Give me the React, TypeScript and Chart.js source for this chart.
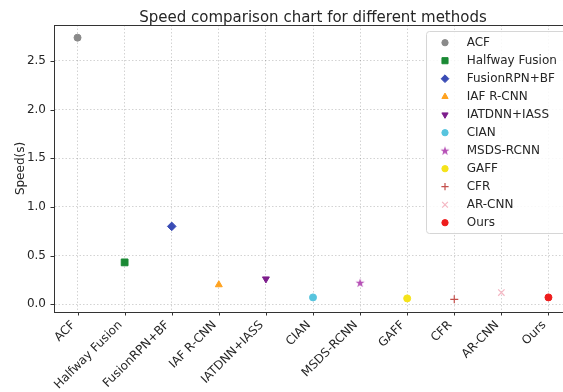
import React, { useEffect, useRef } from 'react';
import { Chart, registerables } from 'chart.js';
import { drawPoint } from 'chart.js/helpers';

Chart.register(...registerables);

const methods = ['ACF', 'Halfway Fusion', 'FusionRPN+BF', 'IAF R-CNN', 'IATDNN+IASS', 'CIAN', 'MSDS-RCNN', 'GAFF', 'CFR', 'AR-CNN', 'Ours'];
const speeds = [2.74, 0.43, 0.8, 0.2, 0.26, 0.07, 0.22, 0.06, 0.05, 0.12, 0.07];
const colors = ['#8a8a8a', '#1b8a35', '#3a4cb5', '#ffa21f', '#7d1e8c', '#57c4de', '#b650b6', '#f5e31a', '#c4504c', '#f4b7c3', '#ee1d1d'];
const markers = ['circle', 'square', 'diamond', 'triangle', 'triangleDown', 'circle', 'star', 'circle', 'plus', 'x', 'circle'];
const yTicks = [0, 0.5, 1.0, 1.5, 2.0, 2.5];
const yMin = -0.08;
const yMax = 2.87;
const titleText = 'Speed comparison chart for different methods';
const yTitle = 'Speed(s)';

const FONT = '"DejaVu Sans", sans-serif';
const TEXT = '#262626';

function makeStar(color: string) {
  const c = document.createElement('canvas');
  c.width = 12;
  c.height = 12;
  const g = c.getContext('2d')!;
  const R = 4.8;
  const r = R * 0.382;
  g.beginPath();
  for (let k = 0; k < 10; k++) {
    const ang = -Math.PI / 2 + (k * Math.PI) / 5;
    const rr = k % 2 === 0 ? R : r;
    const px = 6 + rr * Math.cos(ang);
    const py = 6.3 + rr * Math.sin(ang);
    if (k === 0) g.moveTo(px, py);
    else g.lineTo(px, py);
  }
  g.closePath();
  g.fillStyle = color;
  g.fill();
  return c;
}

function markerOpts(kind: string, color: string) {
  switch (kind) {
    case 'square':
      return { pointStyle: 'rect', radius: 4.8, rotation: 0, borderWidth: 1 };
    case 'diamond':
      return { pointStyle: 'rectRot', radius: 4.3, rotation: 0, borderWidth: 1 };
    case 'triangle':
      return { pointStyle: 'triangle', radius: 4, rotation: 0, borderWidth: 1 };
    case 'triangleDown':
      return { pointStyle: 'triangle', radius: 4, rotation: 180, borderWidth: 1 };
    case 'star':
      return { pointStyle: makeStar(color), radius: 5, rotation: 0, borderWidth: 0 };
    case 'plus':
      return { pointStyle: 'cross', radius: 4, rotation: 0, borderWidth: 1.2 };
    case 'x':
      return { pointStyle: 'crossRot', radius: 4.5, rotation: 0, borderWidth: 1.2 };
    default:
      return { pointStyle: 'circle', radius: 3.5, rotation: 0, borderWidth: 1 };
  }
}

export default function App() {
  const ref = useRef<HTMLCanvasElement>(null);

  useEffect(() => {
    const canvas = ref.current!;
    const mk = markers.map((m, i) => markerOpts(m, colors[i]));

    const decor = {
      id: 'decor',
      afterDraw(chart: any) {
        const { ctx, chartArea: a, scales } = chart;
        const xs = scales.x;
        const ys = scales.y;
        ctx.save();
        ctx.strokeStyle = '#333';
        ctx.lineWidth = 1;
        const line = (x1: number, y1: number, x2: number, y2: number) => {
          ctx.beginPath();
          ctx.moveTo(x1, y1);
          ctx.lineTo(x2, y2);
          ctx.stroke();
        };
        // top spine
        line(a.left, a.top + 0.5, a.right, a.top + 0.5);
        // tick marks
        yTicks.forEach((v) => {
          const py = Math.round(ys.getPixelForValue(v)) + 0.5;
          line(a.left - 3.5, py, a.left, py);
        });
        methods.forEach((_, i) => {
          const px = Math.round(xs.getPixelForValue(i)) + 0.5;
          line(px, a.bottom, px, a.bottom + 3.5);
        });
        // x labels, rotated 45, right aligned
        ctx.font = `12px ${FONT}`;
        ctx.fillStyle = TEXT;
        ctx.textAlign = 'right';
        ctx.textBaseline = 'alphabetic';
        const ty = a.bottom + 7;
        methods.forEach((m, i) => {
          const tx = xs.getPixelForValue(i);
          ctx.save();
          ctx.translate(tx - 2, ty + 6.4);
          ctx.rotate(-Math.PI / 4);
          ctx.fillText(m, 0, 0);
          ctx.restore();
        });
        // title
        ctx.font = `15px ${FONT}`;
        ctx.textAlign = 'center';
        ctx.fillText(titleText, (a.left + a.right) / 2, 21.5);
        // y title
        ctx.font = `12px ${FONT}`;
        ctx.save();
        ctx.translate(23.5, (a.top + a.bottom) / 2);
        ctx.rotate(-Math.PI / 2);
        ctx.textAlign = 'center';
        ctx.fillText(yTitle, 0, 0);
        ctx.restore();
        // legend
        const lx = 426.5;
        const ltop = 31.5;
        const lbot = 233.5;
        const lright = a.right - 5;
        const rad = 3;
        ctx.beginPath();
        ctx.moveTo(lx + rad, ltop);
        ctx.lineTo(lright - rad, ltop);
        ctx.arcTo(lright, ltop, lright, ltop + rad, rad);
        ctx.lineTo(lright, lbot - rad);
        ctx.arcTo(lright, lbot, lright - rad, lbot, rad);
        ctx.lineTo(lx + rad, lbot);
        ctx.arcTo(lx, lbot, lx, lbot - rad, rad);
        ctx.lineTo(lx, ltop + rad);
        ctx.arcTo(lx, ltop, lx + rad, ltop, rad);
        ctx.closePath();
        ctx.fillStyle = 'rgba(255,255,255,0.85)';
        ctx.fill();
        ctx.strokeStyle = '#d6d6d6';
        ctx.lineWidth = 1;
        ctx.stroke();
        methods.forEach((m, i) => {
          const y = 42.7 + i * 18;
          const o = mk[i];
          ctx.fillStyle = colors[i];
          ctx.strokeStyle = colors[i];
          ctx.lineWidth = o.borderWidth;
          drawPoint(ctx, { pointStyle: o.pointStyle, radius: o.radius * 0.9, rotation: o.rotation, borderWidth: o.borderWidth } as any, 445, y);
          ctx.fillStyle = TEXT;
          ctx.font = `12px ${FONT}`;
          ctx.textAlign = 'left';
          ctx.textBaseline = 'middle';
          ctx.fillText(m, 466.7, y + 0.5);
        });
        ctx.restore();
      },
    };

    const chart = new Chart(canvas, {
      type: 'scatter',
      data: {
        datasets: methods.map((m, i) => ({
          label: m,
          data: [{ x: i, y: speeds[i] }],
          pointStyle: mk[i].pointStyle as any,
          pointRadius: mk[i].radius,
          pointHoverRadius: mk[i].radius,
          pointRotation: mk[i].rotation,
          pointBorderWidth: mk[i].borderWidth,
          pointBackgroundColor: colors[i],
          pointBorderColor: colors[i],
          backgroundColor: colors[i],
          borderColor: colors[i],
        })),
      },
      options: {
        animation: false,
        responsive: false,
        devicePixelRatio: 1,
        events: [],
        layout: { padding: { top: 25, left: 0, right: 28, bottom: 0 } },
        plugins: {
          legend: { display: false },
          tooltip: { enabled: false },
          title: { display: false },
        },
        scales: {
          x: {
            type: 'linear',
            min: -0.5,
            max: 10.5,
            afterBuildTicks: (s: any) => {
              s.ticks = methods.map((_, i) => ({ value: i }));
            },
            afterFit: (s: any) => {
              s.height = 80;
            },
            ticks: { display: false },
            grid: { color: 'rgba(0,0,0,0.22)', lineWidth: 0.8, drawTicks: false, tickLength: 0 },
            border: { display: true, color: '#333', width: 1, dash: [1.5, 2] },
          },
          y: {
            type: 'linear',
            min: yMin,
            max: yMax,
            afterBuildTicks: (s: any) => {
              s.ticks = yTicks.map((v) => ({ value: v }));
            },
            afterFit: (s: any) => {
              s.width = 54;
            },
            ticks: {
              padding: 8,
              color: TEXT,
              font: { family: FONT, size: 12 },
              callback: (v: any) => Number(v).toFixed(1),
            },
            grid: { color: 'rgba(0,0,0,0.22)', lineWidth: 0.8, drawTicks: false, tickLength: 0 },
            border: { display: true, color: '#333', width: 1, dash: [1.5, 2] },
          },
        },
      },
      plugins: [decor],
    });
    return () => chart.destroy();
  }, []);

  return (
    <div style={{ position: 'absolute', left: 0, top: 0, width: 563, height: 392, overflow: 'hidden', background: '#fff' }}>
      <canvas ref={ref} width={600} height={392} style={{ width: 600, height: 392, display: 'block' }} />
    </div>
  );
}
